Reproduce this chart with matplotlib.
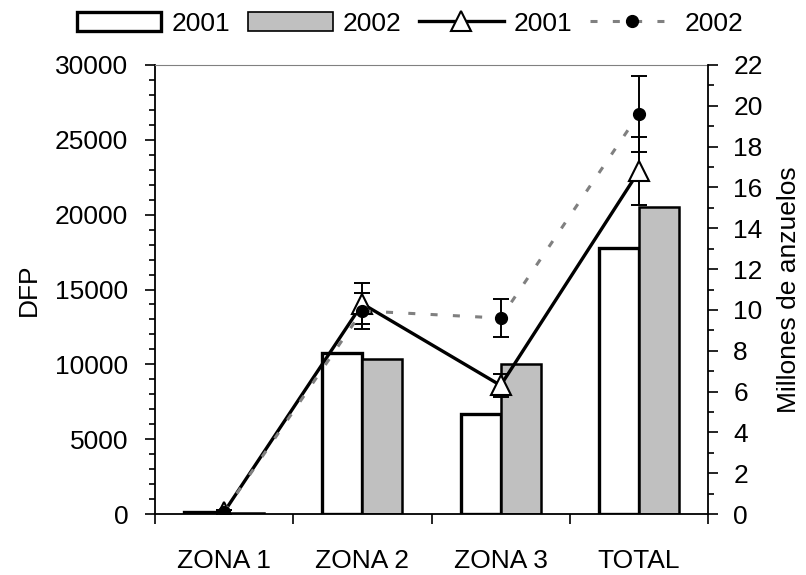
import matplotlib
matplotlib.use("Agg")
import matplotlib.pyplot as plt
import numpy as np
from matplotlib.patches import Patch
from matplotlib.lines import Line2D

plt.rcParams['font.family'] = ['Liberation Sans', 'DejaVu Sans']

zonas = ['ZONA 1', 'ZONA 2', 'ZONA 3', 'TOTAL']
dfp_2001 = [120, 10750, 6700, 17750]
dfp_2002 = [90, 10350, 10000, 20500]
anz_2001 = [0.1, 10.3, 6.3, 16.8]
anz_2001_err = [0.1, 1.0, 0.57, 1.66]
anz_2002 = [0.1, 9.95, 9.6, 19.6]
anz_2002_err = [0.1, 0.9, 0.92, 1.86]

fs = 19
x = np.arange(len(zonas)) + 0.5
w = 0.29

fig = plt.figure(figsize=(8.06, 5.75), dpi=100)
ax = fig.add_axes([155/806, 1 - 514/575, (708 - 155)/806, (514 - 65)/575])

ax.bar(x - w/2, dfp_2001, w, color='white', edgecolor='black', linewidth=2.4, zorder=2)
ax.bar(x + w/2, dfp_2002, w, color='#c0c0c0', edgecolor='black', linewidth=1.8, zorder=2)
ax.set_xlim(0, 4)
ax.set_ylim(0, 30000)
ax.set_yticks(np.arange(0, 30001, 5000))
ax.set_yticks(np.arange(0, 30001, 1000), minor=True)
ax.set_xticks(np.arange(0, 5))
ax.set_xticklabels([])
ax.set_xticks(x, minor=True)
ax.set_xticklabels(zonas, minor=True, fontsize=fs)
ax.tick_params(axis='x', which='major', direction='out', length=7.2, width=1.2)
ax.tick_params(axis='x', which='minor', length=0, pad=25)
ax.tick_params(axis='y', which='major', direction='out', length=7.2, width=1.2, labelsize=fs, pad=12)
ax.tick_params(axis='y', which='minor', direction='out', length=4, width=1.2)
ax.set_ylabel('DFP', fontsize=fs, labelpad=10)
ax.spines['top'].set_color('#808080')
ax.spines['right'].set_visible(False)
ax.spines['left'].set_linewidth(1.3)
ax.spines['bottom'].set_linewidth(1.3)

ax2 = ax.twinx()
ax2.errorbar(x, anz_2001, yerr=anz_2001_err, fmt='none', ecolor='black',
             elinewidth=1.4, capsize=5.5, capthick=1.4, zorder=3)
ax2.errorbar(x, anz_2002, yerr=anz_2002_err, fmt='none', ecolor='black',
             elinewidth=1.4, capsize=5.5, capthick=1.4, zorder=3)
ax2.plot(x, anz_2001, color='black', linewidth=2.4, marker='^', markersize=14,
         markerfacecolor='white', markeredgecolor='black', markeredgewidth=1.5, zorder=4)
ax2.plot(x, anz_2002, color='#808080', linewidth=2.2, dashes=(2.3, 5.0),
         marker='o', markersize=8.5, markerfacecolor='black', markeredgecolor='black', zorder=5)
ax2.set_ylim(0, 22)
ax2.set_yticks(np.arange(0, 23, 2))
ax2.set_yticks(np.arange(0, 23, 1), minor=True)
ax2.tick_params(axis='y', which='major', direction='out', length=7.2, width=1.2, labelsize=fs, pad=11)
ax2.tick_params(axis='y', which='minor', direction='out', length=4, width=1.2)
ax2.set_ylabel('Millones de anzuelos', fontsize=fs, labelpad=10)
ax2.spines['top'].set_visible(False)
ax2.spines['left'].set_visible(False)
ax2.spines['bottom'].set_visible(False)
ax2.spines['right'].set_linewidth(1.3)

handles = [
    Patch(facecolor='white', edgecolor='black', linewidth=2.4),
    Patch(facecolor='#c0c0c0', edgecolor='black', linewidth=1.2),
    Line2D([], [], color='black', linewidth=2.4, marker='^', markersize=14,
           markerfacecolor='white', markeredgecolor='black', markeredgewidth=1.5),
    Line2D([], [], color='#808080', linewidth=2.2, dashes=(2.3, 5.0), marker='o',
           markersize=8.5, markerfacecolor='black', markeredgecolor='black'),
]
fig.legend(handles, ['2001', '2002', '2001', '2002'], loc='center',
           bbox_to_anchor=(0.509, 0.959), ncol=4, frameon=False, fontsize=fs,
           handlelength=3.2, handletextpad=0.38, columnspacing=0.68, borderpad=0)

fig.savefig('out.png', dpi=100)
